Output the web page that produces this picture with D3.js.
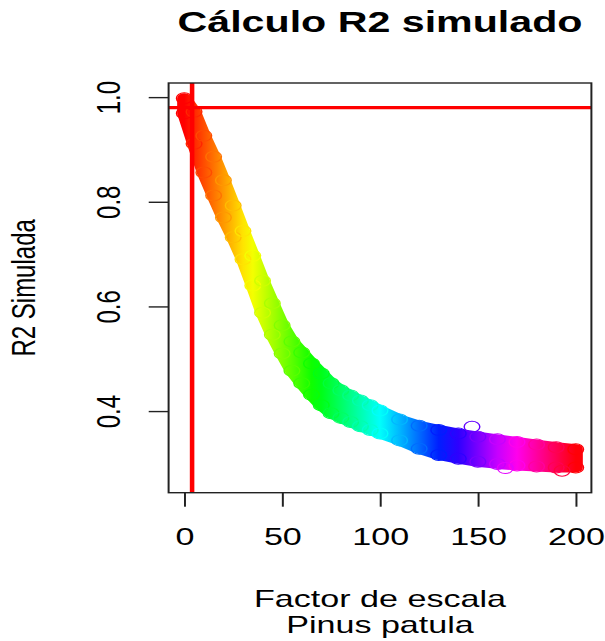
<!DOCTYPE html>
<html>
<head>
<meta charset="utf-8">
<script src="https://cdn.jsdelivr.net/npm/d3@7"></script>
<style>
  body { margin: 0; background: #fff; }
  svg { display: block; }
  text { font-family: "Liberation Sans", Arial, sans-serif; fill: #000; }
</style>
</head>
<body>
<div id="chart"></div>
<script>
// simulated R2 band: range of the simulations per scale factor
const factorEscala = [0, 5, 10, 15, 20, 25, 30, 35, 40, 45, 50, 55, 60, 65, 70, 75, 80, 85, 90, 95, 100,
  110, 120, 130, 140, 150, 160, 170, 180, 190, 200];
const r2Max = [0.998, 0.972, 0.926, 0.886, 0.841, 0.793, 0.744, 0.697, 0.649, 0.606, 0.564, 0.533, 0.512,
  0.491, 0.472, 0.453, 0.440, 0.430, 0.420, 0.411, 0.401, 0.384, 0.372, 0.364, 0.357, 0.351, 0.346,
  0.341, 0.336, 0.331, 0.327];
const r2Min = [0.969, 0.911, 0.856, 0.812, 0.770, 0.732, 0.690, 0.640, 0.588, 0.546, 0.510, 0.477, 0.453,
  0.431, 0.411, 0.396, 0.387, 0.379, 0.371, 0.364, 0.357, 0.344, 0.328, 0.316, 0.309, 0.303, 0.299,
  0.296, 0.294, 0.292, 0.292];
// stray points outside the band
const extraFactor = [147, 164, 193];
const extraR2 = [0.370, 0.291, 0.286];

const xTicks = [0, 50, 100, 150, 200];
const yTicks = [0.4, 0.6, 0.8, 1.0];
const refFactor = 4;
const refR2 = 0.98;
const xLim = [-8, 208];
const yLim = [0.244, 1.027];

const WIDTH = 605;
const HEIGHT = 641;
const SX = 1.42; // the picture is stretched sideways
const BOX = { LEFT: 168.6, RIGHT: 591.4, TOP: 83, BOTTOM: 492.7 };

const svg = d3.select("#chart").append("svg")
  .attr("width", WIDTH)
  .attr("height", HEIGHT);

const g = svg.append("g").attr("transform", `scale(${SX},1)`);

const x = d3.scaleLinear().domain(xLim).range([BOX.LEFT / SX, BOX.RIGHT / SX]);
const y = d3.scaleLinear().domain(yLim).range([BOX.BOTTOM, BOX.TOP]);
const hue = d3.scaleLinear().domain([0, 201]).range([0, 360]);
const colour = (f) => d3.hsl(hue(f), 1, 0.5).formatHex();

const data = factorEscala.map((f, i) => ({ f: f, hi: r2Max[i], lo: r2Min[i] }));

// rainbow gradient along x
const grad = svg.append("defs").append("linearGradient")
  .attr("id", "rainbow")
  .attr("gradientUnits", "userSpaceOnUse")
  .attr("x1", x(0)).attr("x2", x(200))
  .attr("y1", 0).attr("y2", 0);
grad.selectAll("stop")
  .data(factorEscala)
  .enter()
  .append("stop")
  .attr("offset", (d) => d / 200)
  .attr("stop-color", (d) => colour(d));

// BAND
const area = d3.area()
  .x((d) => x(d.f))
  .y0((d) => y(d.lo))
  .y1((d) => y(d.hi));

g.append("path")
  .datum(data)
  .attr("d", area)
  .style("fill", "url(#rainbow)")
  .style("stroke", "url(#rainbow)")
  .style("stroke-width", 10)
  .style("stroke-linejoin", "round");

// edge rings
const ringPts = [];
data.forEach((d) => {
  ringPts.push({ f: d.f, v: d.hi });
  ringPts.push({ f: d.f, v: d.lo });
});
extraFactor.forEach((f, i) => ringPts.push({ f: f, v: extraR2[i] }));

g.selectAll("circle.ring")
  .data(ringPts)
  .enter()
  .append("circle")
  .attr("class", "ring")
  .attr("cx", (d) => x(d.f))
  .attr("cy", (d) => y(d.v))
  .attr("r", 5.5)
  .style("fill", "none")
  .style("stroke", (d) => colour(d.f))
  .style("stroke-width", 1);

// REFERENCE LINES
g.append("line")
  .attr("x1", x(refFactor)).attr("x2", x(refFactor))
  .attr("y1", BOX.TOP).attr("y2", BOX.BOTTOM)
  .style("stroke", "#ff0000")
  .style("stroke-width", 3.2);
g.append("line")
  .attr("x1", BOX.LEFT / SX).attr("x2", BOX.RIGHT / SX)
  .attr("y1", y(refR2)).attr("y2", y(refR2))
  .style("stroke", "#ff0000")
  .style("stroke-width", 3.2);

// BOX
g.append("rect")
  .attr("x", BOX.LEFT / SX)
  .attr("y", BOX.TOP)
  .attr("width", (BOX.RIGHT - BOX.LEFT) / SX)
  .attr("height", BOX.BOTTOM - BOX.TOP)
  .style("fill", "none")
  .style("stroke", "#222")
  .style("stroke-width", 1.4);

// AXES
g.append("g")
  .attr("transform", `translate(0,${BOX.BOTTOM})`)
  .call(d3.axisBottom(x).tickValues(xTicks).tickSize(14).tickFormat(d3.format("d")))
  .call((a) => {
    a.select(".domain").remove();
    a.selectAll("line").style("stroke", "#222").style("stroke-width", 1.4);
    a.selectAll("text")
      .attr("y", 52.3)
      .attr("dy", 0)
      .style("font-size", "24px")
      .style("font-family", '"Liberation Sans", Arial, sans-serif')
      .style("fill", "#000");
  });

g.append("g")
  .attr("transform", `translate(${BOX.LEFT / SX},0)`)
  .call(d3.axisLeft(y).tickValues(yTicks).tickSize(14).tickFormat(d3.format(".1f")))
  .call((a) => {
    a.select(".domain").remove();
    a.selectAll("line").style("stroke", "#222").style("stroke-width", 1.4);
    a.selectAll("text")
      .attr("x", 0)
      .attr("dy", 0)
      .attr("transform", "translate(-34.2,0) rotate(-90)")
      .style("text-anchor", "middle")
      .style("font-size", "24px")
      .style("font-family", '"Liberation Sans", Arial, sans-serif')
      .style("fill", "#000");
  });

// TITLES
const midX = (BOX.LEFT + BOX.RIGHT) / 2 / SX;
g.append("text")
  .attr("x", midX)
  .attr("y", 32)
  .style("text-anchor", "middle")
  .style("font-size", "29px")
  .style("font-weight", "bold")
  .text("Cálculo R2 simulado");

g.append("text")
  .attr("x", midX)
  .attr("y", 607)
  .style("text-anchor", "middle")
  .style("font-size", "24px")
  .text("Factor de escala");

g.append("text")
  .attr("x", midX)
  .attr("y", 633)
  .style("text-anchor", "middle")
  .style("font-size", "24px")
  .text("Pinus patula");

g.append("text")
  .attr("transform", `translate(${35 / SX},${(BOX.TOP + BOX.BOTTOM) / 2}) rotate(-90)`)
  .style("text-anchor", "middle")
  .style("font-size", "24px")
  .text("R2 Simulada");
</script>
</body>
</html>
